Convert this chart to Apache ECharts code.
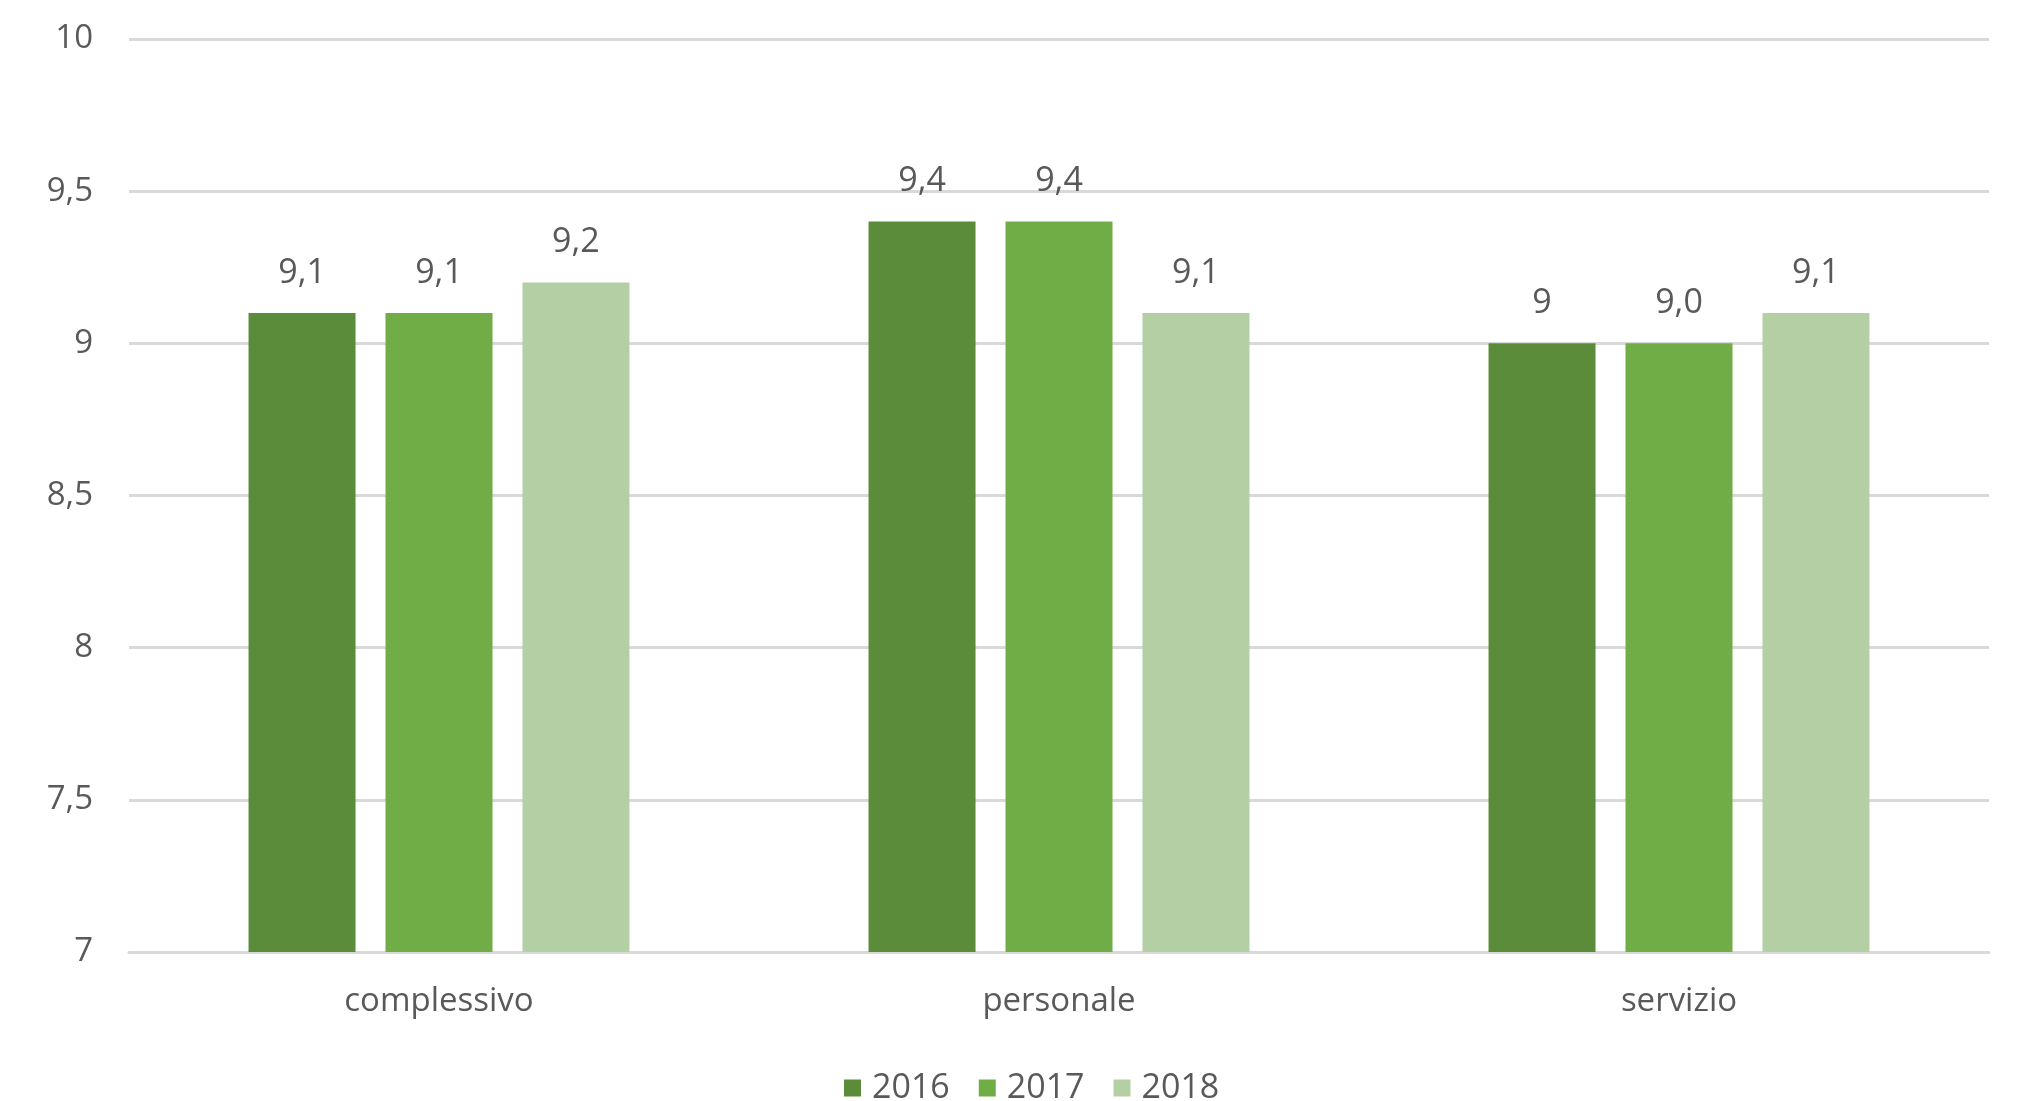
<!DOCTYPE html>
<html>
<head>
<meta charset="utf-8">
<script src="https://cdn.jsdelivr.net/npm/echarts@6/dist/echarts.min.js"></script>
<style>
html,body{margin:0;padding:0;background:#fff;}
#chart{width:2025px;height:1101px;}
</style>
</head>
<body>
<div id="chart"></div>
<script>
const categories = ['complessivo', 'personale', 'servizio'];
const seriesNames = ['2016', '2017', '2018'];
const values2016 = [9.1, 9.4, 9.0];
const values2017 = [9.1, 9.4, 9.0];
const values2018 = [9.2, 9.1, 9.1];
const labels2016 = ['9,1', '9,4', '9'];
const labels2017 = ['9,1', '9,4', '9,0'];
const labels2018 = ['9,2', '9,1', '9,1'];
const yTicks = [7, 7.5, 8, 8.5, 9, 9.5, 10];

const colors = ['#5a8c3a', '#70ad47', '#b4cfa4'];
const font = '"Open Sans", Lato, sans-serif';
const textColor = '#595959';

const allValues = [values2016, values2017, values2018];
const allLabels = [labels2016, labels2017, labels2018];

const chart = echarts.init(document.getElementById('chart'));
const series = seriesNames.map((name, i) => ({
  name: name,
  type: 'bar',
  data: allValues[i],
  barWidth: 107,
  barGap: '28%',
  itemStyle: { color: colors[i] },
  label: {
    show: true,
    position: 'top',
    distance: 23,
    color: textColor,
    fontFamily: font,
    fontSize: 34,
    formatter: p => allLabels[i][p.dataIndex]
  }
}));

chart.setOption({
  animation: false,
  color: colors,
  grid: { left: 129, right: 36, top: 39, bottom: 149, containLabel: false },
  legend: {
    data: seriesNames,
    left: 839,
    bottom: -9,
    itemWidth: 17,
    itemHeight: 17,
    itemGap: 29,
    icon: 'rect',
    textStyle: { color: textColor, fontFamily: font, fontSize: 34, padding: [0, 0, 0, 6] }
  },
  xAxis: {
    type: 'category',
    data: categories,
    axisLine: { show: true, lineStyle: { color: '#d9d9d9', width: 3 } },
    axisTick: { show: false },
    axisLabel: { color: textColor, fontFamily: font, fontSize: 33, margin: 33 }
  },
  yAxis: {
    type: 'value',
    min: yTicks[0],
    max: yTicks[yTicks.length - 1],
    interval: 0.5,
    axisLine: { show: false },
    axisTick: { show: false },
    splitLine: { lineStyle: { color: '#d9d9d9', width: 3 } },
    axisLabel: {
      color: textColor, fontFamily: font, fontSize: 33, margin: 36,
      formatter: v => String(v).replace('.', ',')
    }
  },
  series: series
});
</script>
</body>
</html>
